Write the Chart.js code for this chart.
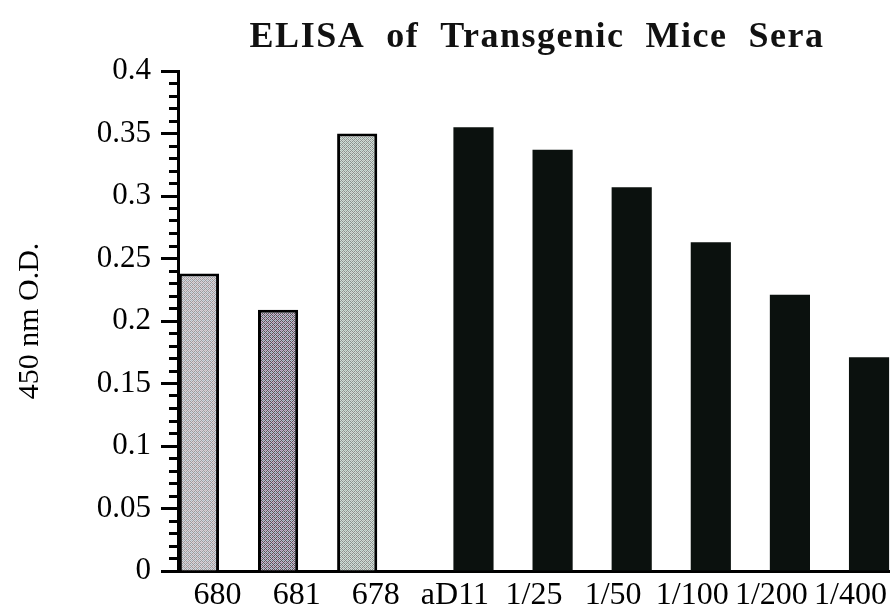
<!DOCTYPE html>
<html>
<head>
<meta charset="utf-8">
<script src="https://cdn.jsdelivr.net/npm/chart.js@4/dist/chart.umd.min.js"></script>
<style>
  html, body { margin: 0; padding: 0; background: #ffffff; }
  #wrap { width: 892px; height: 611px; }
</style>
</head>
<body>
<div id="wrap"><canvas id="elisa" width="892" height="611"></canvas></div>
<script>
// ELISA readings (optical density at 450 nm)
const chartTitle = 'ELISA  of  Transgenic  Mice  Sera';
const yAxisTitle = '450 nm O.D.';
const categories = ['680', '681', '678', 'aD11', '1/25', '1/50', '1/100', '1/200', '1/400'];
// sera from the transgenic mice
const miceSera = [0.238, 0.209, 0.350, null, null, null, null, null, null];
// aD11 antibody standard and its dilution series
const antibodyDilutions = [null, null, null, 0.355, 0.337, 0.307, 0.263, 0.221, 0.171];
const yTickLabels = ['0', '0.05', '0.1', '0.15', '0.2', '0.25', '0.3', '0.35', '0.4'];

const serif = '"Liberation Serif", "Times New Roman", serif';
const canvas = document.getElementById('elisa');
const ctx2d = canvas.getContext('2d');

// small stipple tile used as a halftone fill for the serum bars
function stipple(light, dark, tintA, tintB) {
  const t = document.createElement('canvas');
  t.width = 4; t.height = 4;
  const g = t.getContext('2d');
  for (let y = 0; y < 4; y++) {
    for (let x = 0; x < 4; x++) {
      let c = (x + y) % 2 === 0 ? light : dark;
      if (x === 1 && y === 2) c = tintA;
      if (x === 3 && y === 0) c = tintB;
      g.fillStyle = c;
      g.fillRect(x, y, 1, 1);
    }
  }
  return ctx2d.createPattern(t, 'repeat');
}

const serumFills = [
  stipple('#d8d6d8', '#9b999d', '#c7b4c0', '#a9bccb'),
  stipple('#c4bcc6', '#57525d', '#a383ad', '#7fa3b4'),
  stipple('#d3dad6', '#8a928e', '#a9c2b8', '#b4bcb8')
];

// title drawn with a little letter spacing
const spacedTitle = {
  id: 'spacedTitle',
  afterDraw(chart, args, opts) {
    const { ctx, chartArea } = chart;
    ctx.save();
    ctx.font = 'bold ' + opts.size + 'px ' + serif;
    ctx.fillStyle = opts.color;
    if ('letterSpacing' in ctx) ctx.letterSpacing = opts.spacing + 'px';
    ctx.textAlign = 'center';
    ctx.textBaseline = 'alphabetic';
    ctx.fillText(opts.text, (chartArea.left + chartArea.right) / 2 + opts.shift, opts.baseline);
    ctx.restore();
  }
};

new Chart(ctx2d, {
  type: 'bar',
  data: {
    labels: categories,
    datasets: [
      {
        label: 'Mice sera',
        data: miceSera,
        backgroundColor: serumFills.concat(Array(6).fill('#cccccc')),
        borderColor: '#000000',
        borderWidth: 3,
        borderSkipped: 'start'
      },
      {
        label: 'aD11 dilutions',
        data: antibodyDilutions,
        backgroundColor: '#0b110e',
        borderWidth: 0
      }
    ]
  },
  options: {
    responsive: false,
    animation: false,
    devicePixelRatio: 1,
    layout: { padding: { top: 71, right: 2, left: 0, bottom: 0 } },
    datasets: { bar: { categoryPercentage: 0.94, barPercentage: 1.08 } },
    plugins: {
      legend: { display: false },
      title: { display: false },
      tooltip: { enabled: false },
      spacedTitle: { text: chartTitle, size: 36, spacing: 1.5, color: '#111111', baseline: 47, shift: 3 }
    },
    scales: {
      x: {
        grid: { display: true, drawOnChartArea: false, drawTicks: false },
        border: { display: true, color: '#000000', width: 3 },
        ticks: {
          color: '#000000',
          font: { family: serif, size: 32 },
          padding: 5,
          maxRotation: 0,
          autoSkip: false
        },
        afterFit(scale) { scale.height = 40; }
      },
      y: {
        min: 0,
        max: 0.4,
        grid: {
          drawOnChartArea: false,
          drawTicks: true,
          tickLength: 17,
          tickWidth: 3,
          tickColor: '#000000',
          // minor ticks are drawn as the inner half of the tick mark only
          tickBorderDash: (c) => (c.index % 5 === 0 ? [] : [0, 8, 9, 0])
        },
        border: { display: true, color: '#000000', width: 3 },
        ticks: {
          stepSize: 0.01,
          autoSkip: false,
          color: '#000000',
          padding: 10,
          font: { family: serif, size: 31 },
          callback: (value, index) => (index % 5 === 0 ? yTickLabels[index / 5] : '')
        },
        title: {
          display: true,
          text: yAxisTitle,
          color: '#000000',
          font: { family: serif, size: 30 },
          padding: { top: 12, bottom: 0 }
        },
        afterFit(scale) { scale.width = 178; }
      }
    }
  },
  plugins: [spacedTitle]
});
</script>
</body>
</html>
